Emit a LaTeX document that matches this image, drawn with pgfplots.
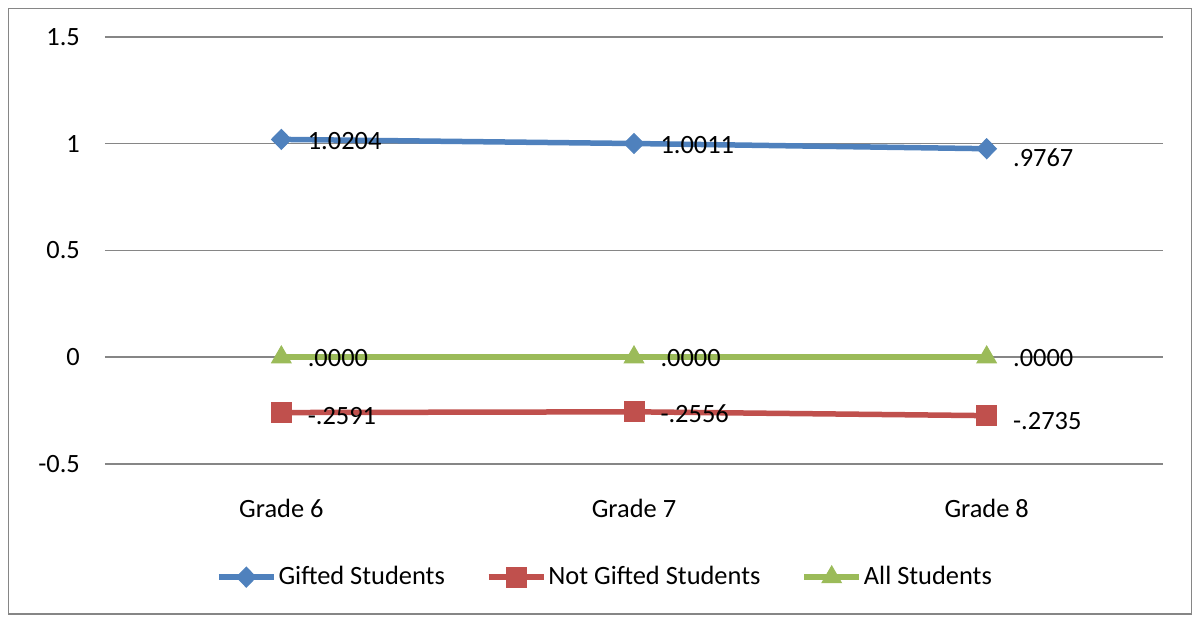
\documentclass[border=0pt]{standalone}
\usepackage{fontspec}
\setmainfont{Carlito}
\usepackage{pgfplots}
\pgfplotsset{compat=1.18}
\definecolor{cblue}{HTML}{4F81BD}
\definecolor{cred}{HTML}{C0504D}
\definecolor{cgreen}{HTML}{9BBB59}
\definecolor{cgrid}{HTML}{868686}
\newcommand{\cf}{\fontsize{13.2}{16}\selectfont}
\begin{document}
\cf
\begin{tikzpicture}[x=0.5pt,y=0.5pt]
\useasboundingbox (0,0) rectangle (1195,620);
\draw[color=cgrid, line width=0.75pt] (8.5,6) rectangle (1191.5,611.5);
\begin{axis}[
  at={(52.5pt,78pt)}, anchor=south west,
  scale only axis, width=529pt, height=213.5pt,
  xmin=-0.5, xmax=2.5, ymin=-0.5, ymax=1.5,
  xtick={0,1,2}, xticklabels={Grade 6,Grade 7,Grade 8},
  ytick={-0.5,0,0.5,1,1.5}, yticklabels={-0.5,0,0.5,1,1.5},
  ymajorgrids, grid style={color=cgrid, line width=0.75pt},
  axis line style={draw=none}, major tick length=0pt,
  tick label style={font=\cf},
  yticklabel style={xshift=-8pt},
  xticklabel style={yshift=-13pt},
  clip=false,
  point meta=explicit symbolic,
  visualization depends on={\thisrow{dy}\as\dy},
  nodes near coords={\pgfplotspointmeta},
  nodes near coords style={anchor=west, font=\cf, xshift=8.6pt, yshift=\dy pt, text=black},
  legend style={at={(0.4726,-0.265)}, anchor=center, draw=none, font=\cf,
    legend columns=3, /tikz/every even column/.append style={column sep=19.5pt},
    inner sep=0pt, nodes={inner sep=1pt}},
  legend cell align=left,
  legend image code/.code={\draw[mark repeat=2,mark phase=2] plot coordinates {(0pt,0pt)(13.75pt,0pt)(27.5pt,0pt)};},
]
\addplot[color=cblue, line width=2.75pt, mark=diamond*, mark size=5pt, mark options={xscale=1.3, line width=0.5pt}]
  table[x=x, y=y, meta=lab] {
x y lab dy
0 1.0204 1.0204 -1
1 1.0011 1.0011 -1
2 0.9767 .9767 -4.5
};
\addlegendentry{Gifted Students}
\addplot[color=cred, line width=2.75pt, mark=square*, mark size=5pt, mark options={line width=0.5pt}]
  table[x=x, y=y, meta=lab] {
x y lab dy
0 -0.2591 -.2591 -1.5
1 -0.2556 -.2556 -0.8
2 -0.2735 -.2735 -2.5
};
\addlegendentry{Not Gifted Students}
\addplot[color=cgreen, line width=2.75pt, mark=triangle*, mark size=5.6pt, mark options={line width=0.5pt}]
  table[x=x, y=y, meta=lab] {
x y lab dy
0 0 .0000 -0.5
1 0 .0000 -0.5
2 0 .0000 -0.5
};
\addlegendentry{All Students}
\end{axis}
\end{tikzpicture}
\end{document}
